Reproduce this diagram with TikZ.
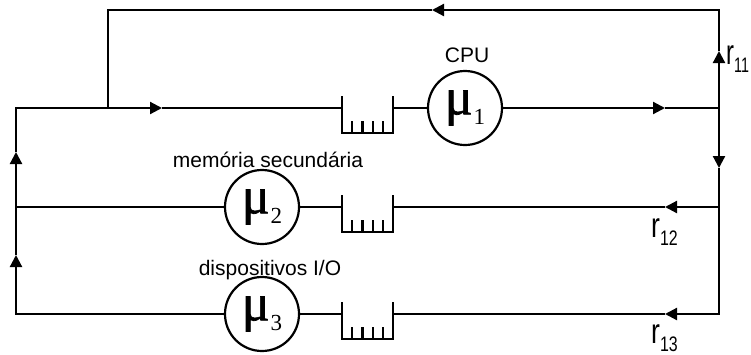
\documentclass[tikz,border=0pt]{standalone}
\usepackage{fontspec}
\usepackage{graphicx}
\setmainfont{Liberation Sans}
\newfontfamily\mufont{Liberation Serif}[FakeBold=1.2]
\newfontfamily\subfont{Liberation Serif}
\usetikzlibrary{arrows.meta}
\newcommand\mulab[1]{{\mufont\fontsize{52}{52}\selectfont μ}\kern1pt{\subfont\fontsize{23}{23}\selectfont\raisebox{-10pt}{#1}}}
\newcommand\rlab[2][0.76]{\scalebox{#1}[1]{\fontsize{35}{35}\selectfont r\raisebox{-8pt}{\fontsize{21}{21}\selectfont #2}}}
\begin{document}
\begin{tikzpicture}[x=1pt,y=-1pt,
  wire/.style={line width=2.2pt},
  arr/.style={wire,-{Triangle[length=12pt,width=12pt]}},
  server/.style={draw,circle,line width=2.2pt,minimum size=74pt,inner sep=0pt},
  lbl/.style={font=\fontsize{21}{24}\selectfont,anchor=base,inner sep=0pt},
  rlbl/.style={anchor=base west,inner sep=0pt},
  queue/.pic={
    \coordinate (-w) at (-25.5,0);
    \coordinate (-e) at (25.5,0);
    \draw[wire] (-25.5,-12) -- (-25.5,25) -- (25.5,25) -- (25.5,-12);
    \foreach \i in {-15.3,-5.1,5.1,15.3} \draw[wire] (\i,25) -- (\i,13);
  }]
\useasboundingbox (0,0) rectangle (751,354);
% corner and junction points
\coordinate (TL) at (108,10);
\coordinate (TR) at (719,10);
\coordinate (J) at (108,108);
\coordinate (R1) at (719,108);
\coordinate (R2) at (719,207);
\coordinate (R3) at (719,314);
\coordinate (L1) at (16,108);
\coordinate (L2) at (16,207);
\coordinate (L3) at (16,314);
% arrow tip points
\coordinate (tT) at (432,10);
\coordinate (tRup) at (719,51);
\coordinate (tRdn) at (719,168);
\coordinate (tL1) at (16,152);
\coordinate (tL2) at (16,255);
\coordinate (tA) at (162,108);
\coordinate (tB) at (665,108);
\coordinate (t2) at (665,207);
\coordinate (t3) at (665,314);
% servers
\node[server] (s1) at (465,108) {\mulab{1}};
\node[server] (s2) at (262,207) {\mulab{2}};
\node[server] (s3) at (262,314) {\mulab{3}};
% queues
\pic (q1) at (367.5,108) {queue};
\pic (q2) at (367.5,207) {queue};
\pic (q3) at (367.5,314) {queue};
% labels
\node[lbl] (cpu) at (467,62) {CPU};
\node[lbl] (mem) at (268,167) {memória secundária};
\node[lbl] (io) at (270,275) {dispositivos I/O};
\node[rlbl] (r11) at (726,64) {\rlab[0.68]{11}};
\node[rlbl] (r12) at (651,237) {\rlab{12}};
\node[rlbl] (r13) at (651,343) {\rlab{13}};
% connectors
\draw[arr] (R1) -- (tRup);
\draw[arr] (tRup) -- (TR) -- (tT);
\draw[wire] (tT) -- (TL) -- (J);
\draw[arr] (R1) -- (tRdn);
\draw[arr] (tRdn) -- (R3) -- (t3);
\draw[wire] (t3) -- (q3-e);
\draw[wire] (q3-w) -- (s3);
\draw[arr] (s3) -- (L3) -- (tL2);
\draw[arr] (tL2) -- (tL1);
\draw[arr] (tL1) -- (L1) -- (tA);
\draw[wire] (tA) -- (q1-w);
\draw[wire] (q1-e) -- (s1);
\draw[arr] (s1) -- (tB);
\draw[wire] (tB) -- (R1);
\draw[arr] (R2) -- (t2);
\draw[wire] (t2) -- (q2-e);
\draw[wire] (q2-w) -- (s2);
\draw[wire] (s2) -- (L2);
\end{tikzpicture}
\end{document}
